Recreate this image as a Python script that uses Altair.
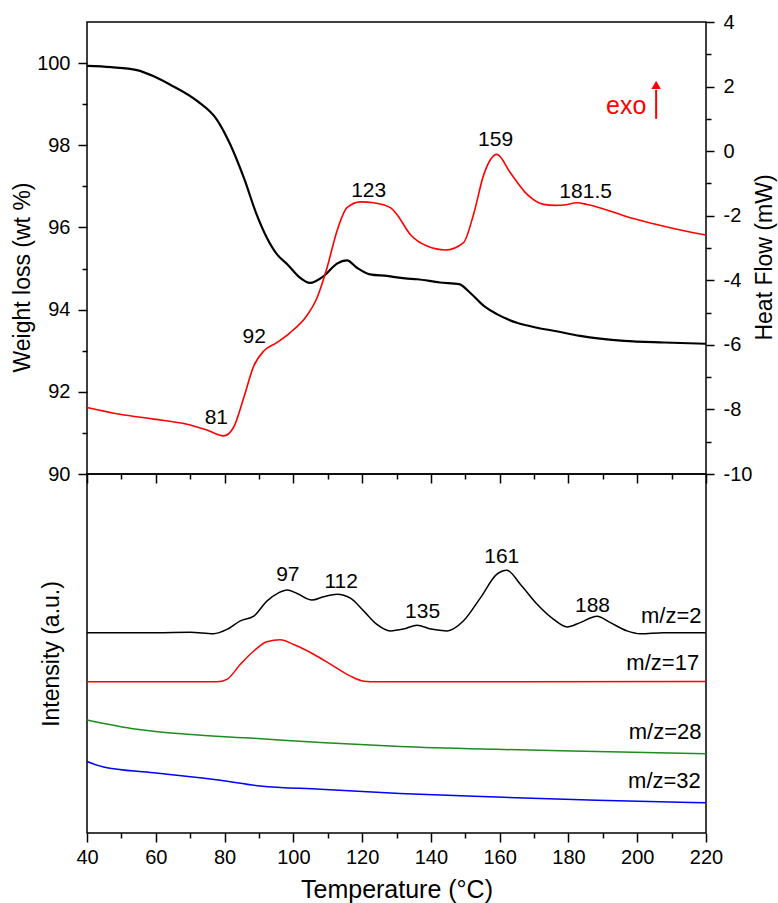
import altair as alt
import pandas as pd

# ---------------- data ----------------
# TG curve (weight loss, left axis)
tg_T = [40, 47, 54.5, 59.4, 64.1, 72, 77.8, 81.6, 85.6, 89.4, 92.3, 95.2, 98.3, 101.9,
        104.8, 108.9, 112.7, 115.6, 118.5, 122.3, 127.2, 132.5, 136, 142.6, 148.2,
        151.4, 155.4, 159.2, 165, 170.9, 176.1, 183.4, 196.2, 207.8, 220]
tg_w = [99.93, 99.90, 99.83, 99.68, 99.48, 99.08, 98.62, 98.03, 97.21, 96.30, 95.75, 95.35,
        95.10, 94.78, 94.65, 94.82, 95.12, 95.20, 95.02, 94.86, 94.82, 94.76, 94.74, 94.66,
        94.62, 94.41, 94.09, 93.89, 93.68, 93.56, 93.48, 93.36, 93.24, 93.20, 93.17]

# DSC curve (heat flow, right axis)
dsc_T = [40, 49.6, 59.4, 69.1, 74.9, 79.7, 82.6, 85.6, 88.5, 91.4, 95.2, 99.1, 103.9, 106.9,
         109.8, 112.7, 115.6, 119.5, 123.4, 128.2, 130.1, 134, 138.9, 144.2, 149.5, 152.4,
         155.4, 159.2, 163.1, 168, 172.8, 176.2, 178.6, 182.5, 185.4, 198, 209.6, 220]
dsc_h = [-7.94, -8.15, -8.30, -8.46, -8.64, -8.82, -8.56, -7.63, -6.65, -6.19, -5.93, -5.62,
         -5.10, -4.54, -3.61, -2.47, -1.75, -1.57, -1.60, -1.75, -1.96, -2.58, -2.94, -3.06,
         -2.83, -1.96, -0.72, -0.10, -0.67, -1.34, -1.65, -1.68, -1.67, -1.60, -1.65, -2.06,
         -2.37, -2.60]

dsc_lab_text = ["81", "92", "123", "159", "181.5"]
dsc_lab_T = [77.6, 88.6, 121.9, 158.8, 185.0]
dsc_lab_h = [-8.46, -5.93, -1.42, 0.16, -1.44]

exo_T = [196.8]
exo_h = [1.14]
arrow_T = [205.5]
arrow_h0 = [1.0]
arrow_h1 = [1.9]
arrow_tip = [2.05]

# MS curves (bottom panel, arbitrary intensity)
ms2_T = [40, 60, 70, 76.8, 80.7, 84.6, 88.5, 92.3, 95.7, 98.2, 101.1, 105.4, 108.8, 112.7,
         116.6, 120.5, 124.3, 128.2, 132, 136, 140, 144.7, 149.5, 154.4, 159.2, 162.1, 166,
         170.9, 175.7, 179.6, 183.4, 188.3, 192.2, 197, 200.9, 207.7, 220]
ms2_v = [55.8, 55.8, 55.9, 55.5, 56.7, 59.1, 60.4, 64.6, 66.9, 67.7, 66.7, 64.9, 65.8, 66.5,
         65.4, 61.8, 58.1, 56.3, 56.8, 57.9, 56.8, 56.3, 59.1, 65.5, 72.1, 73.2, 69.3,
         63.7, 59.5, 57.4, 58.6, 60.4, 58.6, 56.3, 55.5, 55.8, 55.8]
ms17_T = [40, 77.8, 80.7, 84.6, 88.5, 92.3, 96.2, 100.1, 105.9, 111.7, 116.6, 120.5, 124.3, 220]
ms17_v = [42.1, 42.1, 42.8, 47.0, 50.7, 53.3, 53.8, 52.5, 49.8, 46.5, 43.7, 42.3, 42.1, 42.2]
ms28_T = [40, 54.5, 69.1, 88.5, 107.9, 131, 159.2, 188.3, 220]
ms28_v = [31.5, 28.9, 27.5, 26.4, 25.2, 24.1, 23.3, 22.7, 22.1]
ms32_T = [40, 44.8, 59.4, 78.8, 90.4, 107.9, 131, 159.2, 188.3, 220]
ms32_v = [19.9, 18.4, 16.8, 14.7, 13.1, 12.2, 11.0, 10.0, 9.1, 8.4]

series_names = ["m/z=2", "m/z=17", "m/z=28", "m/z=32"]
series_colors = ["#000000", "#ff0000", "#1e8c1e", "#0000ff"]

peak_text = ["97", "112", "135", "161", "188"]
peak_T = [98.4, 113.9, 137.6, 160.6, 187.0]
peak_v = [70.2, 68.2, 59.8, 75.3, 61.6]

mz_T = [218.7, 218.0, 218.7, 218.5]
mz_v = [58.6, 45.3, 26.1, 12.5]

x_ticks = list(range(40, 221, 10))
left_ticks = list(range(90, 101))
right_ticks = list(range(-10, 5))

FONT = "Liberation Sans"

# ---------------- frames ----------------
tg_df = pd.DataFrame({"T": tg_T, "w": tg_w})
dsc_df = pd.DataFrame({"T": dsc_T, "h": dsc_h})
dsc_lab_df = pd.DataFrame({"T": dsc_lab_T, "h": dsc_lab_h, "t": dsc_lab_text})
exo_df = pd.DataFrame({"T": exo_T, "h": exo_h, "t": ["exo"]})
arrow_df = pd.DataFrame({"T": arrow_T, "h": arrow_h0, "h1": arrow_h1, "tip": arrow_tip})

ms_frames = []
for name, TT, VV in zip(series_names, [ms2_T, ms17_T, ms28_T, ms32_T],
                        [ms2_v, ms17_v, ms28_v, ms32_v]):
    ms_frames.append(pd.DataFrame({"T": TT, "v": VV, "s": name}))
ms_df = pd.concat(ms_frames, ignore_index=True)
peak_df = pd.DataFrame({"T": peak_T, "v": peak_v, "t": peak_text})
mz_df = pd.DataFrame({"T": mz_T, "v": mz_v, "t": series_names})

# ---------------- scales / axes ----------------
xs = alt.Scale(domain=[40, 220], nice=False, zero=False)
wscale = alt.Scale(domain=[90, 101], nice=False, zero=False)
hscale = alt.Scale(domain=[-10, 4], nice=False, zero=False)
vscale = alt.Scale(domain=[0, 100], nice=False, zero=False)


def cond_size(test, big, small):
    return {"condition": {"test": test, "value": big}, "value": small}


top_x_axis = alt.Axis(values=x_ticks, labels=False, title=None, orient="bottom",
                      tickSize=cond_size("datum.value % 20 === 0", 9, 5))
bottom_x_axis = alt.Axis(values=x_ticks, title="Temperature (°C)", orient="bottom",
                         labelExpr="datum.value % 20 === 0 ? '' + datum.value : ''",
                         tickSize=cond_size("datum.value % 20 === 0", 9, 5),
                         labelPadding=5, labelFlush=False, titlePadding=10,
                         titleFontSize=25)
left_axis = alt.Axis(values=left_ticks, title="Weight loss (wt %)", orient="left",
                     labelExpr="datum.value % 2 === 0 ? '' + datum.value : ''",
                     tickSize=cond_size("datum.value % 2 === 0", 9, 5),
                     labelPadding=8, titlePadding=2, titleY=255, minExtent=0)
right_axis = alt.Axis(values=right_ticks, title="Heat Flow (mW)", orient="right",
                      labelExpr="datum.value % 2 === 0 ? '' + datum.value : ''",
                      tickSize=cond_size("datum.value % 2 === 0", 8, 5),
                      labelPadding=9, titlePadding=2, titleAngle=270,
                      titleBaseline="top", titleY=235, minExtent=0)
bottom_y_axis = alt.Axis(title="Intensity (a.u.)", ticks=False, labels=False,
                         titlePadding=24, minExtent=0, orient="left")

X_TOP = alt.X("T:Q", scale=xs, axis=top_x_axis)
X_BOT = alt.X("T:Q", scale=xs, axis=bottom_x_axis)

# ---------------- top panel ----------------
black = alt.Chart(tg_df).mark_line(color="black", strokeWidth=2.2, interpolate="monotone").encode(
    x=X_TOP,
    y=alt.Y("w:Q", scale=wscale, axis=left_axis),
)

red_line = alt.Chart(dsc_df).mark_line(color="#ff0000", strokeWidth=1.6, interpolate="monotone").encode(
    x=X_TOP,
    y=alt.Y("h:Q", scale=hscale, axis=right_axis),
)
red_labels = alt.Chart(dsc_lab_df).mark_text(
    font=FONT, fontSize=21, color="black", align="center", baseline="alphabetic").encode(
    x=X_TOP,
    y=alt.Y("h:Q", scale=hscale, axis=right_axis),
    text="t:N",
)
exo = alt.Chart(exo_df).mark_text(
    font=FONT, fontSize=25, color="#ff0000", align="center", baseline="alphabetic").encode(
    x=X_TOP,
    y=alt.Y("h:Q", scale=hscale, axis=right_axis),
    text="t:N",
)
arrow_rule = alt.Chart(arrow_df).mark_rule(color="#ff0000", strokeWidth=2).encode(
    x=X_TOP,
    y=alt.Y("h:Q", scale=hscale, axis=right_axis),
    y2="h1:Q",
)
arrow_head = alt.Chart(arrow_df).mark_point(
    shape="triangle-up", filled=True, size=90, color="#ff0000", opacity=1).encode(
    x=X_TOP,
    y=alt.Y("tip:Q", scale=hscale, axis=right_axis, title="Heat Flow (mW)"),
)
red_group = alt.layer(red_line, red_labels, exo, arrow_rule, arrow_head)

top = alt.layer(black, red_group).resolve_scale(y="independent").properties(
    width=619, height=452)

# ---------------- bottom panel ----------------
Y_BOT = alt.Y("v:Q", scale=vscale, axis=bottom_y_axis)
ms_lines = alt.Chart(ms_df).mark_line(strokeWidth=1.5, interpolate="monotone").encode(
    x=X_BOT,
    y=Y_BOT,
    color=alt.Color("s:N", scale=alt.Scale(domain=series_names, range=series_colors), legend=None),
)
peaks = alt.Chart(peak_df).mark_text(
    font=FONT, fontSize=21, color="black", align="center", baseline="alphabetic").encode(
    x=X_BOT,
    y=Y_BOT,
    text="t:N",
)
mz = alt.Chart(mz_df).mark_text(
    font=FONT, fontSize=22, color="black", align="right", baseline="alphabetic").encode(
    x=X_BOT,
    y=Y_BOT,
    text="t:N",
)
bottom = alt.layer(ms_lines, peaks, mz).properties(width=619, height=359)

chart = alt.vconcat(top, bottom, spacing=0, bounds="flush").properties(
    padding={"left": 10, "top": 11, "right": 0, "bottom": 0}
).configure_view(stroke="black", strokeWidth=1.5).configure_axis(
    labelFont=FONT, titleFont=FONT, labelFontSize=20, titleFontSize=23,
    labelColor="black", titleColor="black", tickColor="black", tickWidth=1.5,
    domain=False, grid=False, titleFontWeight="normal", labelOverlap=False,
).configure_text(font=FONT)

chart.save("out.html", embed_options={"renderer": "svg", "actions": False})
